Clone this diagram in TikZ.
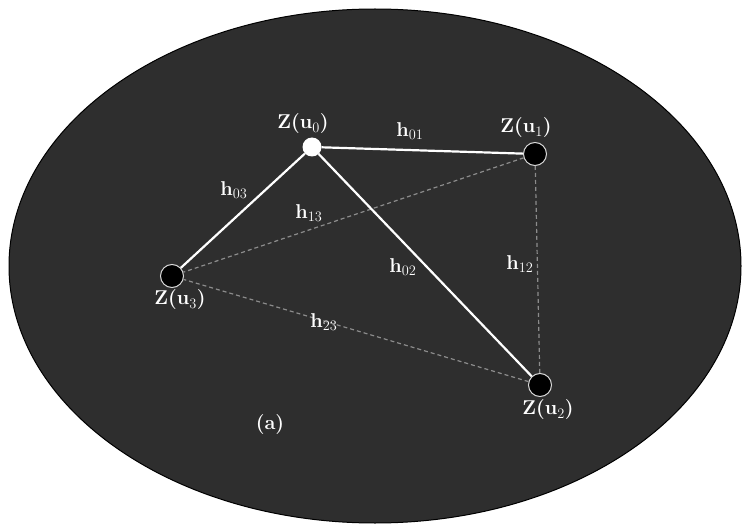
\documentclass[tikz,border=0pt]{standalone}
\usetikzlibrary{positioning}
\begin{document}
\begin{tikzpicture}[x=1pt,y=-1pt,
  lbl/.style={text=white,font=\fontsize{20}{22}\selectfont\bfseries,inner sep=1pt},
  whitept/.style={circle,fill=white,minimum size=19pt,inner sep=0pt},
  blackpt/.style={circle,fill=black,draw=white!85!black,line width=1pt,minimum size=23pt,inner sep=0pt},
  solidedge/.style={draw=white,line width=2.2pt},
  dashedge/.style={draw=white!55!black,line width=1.2pt,dashed,dash pattern=on 4pt off 3pt}]
\useasboundingbox (0,0) rectangle (745,532);
\fill[white] (0,0) rectangle (745,532);
\fill[black!82,draw=black,line width=1pt] (375,266) ellipse [x radius=366, y radius=257];
% points
\node[whitept] (u0) at (312,147) {};
\node[blackpt] (u1) at (535,154) {};
\node[blackpt] (u3) at (172,276) {};
\node[blackpt] (u2) at (540,385) {};
% connectors
\draw[dashedge] (u1) -- (u2);
\draw[dashedge] (u1) -- (u3);
\draw[dashedge] (u2) -- (u3);
\draw[solidedge] (u0) -- (u1);
\draw[solidedge] (u0) -- (u3);
\draw[solidedge] (u0) -- (u2);
% point labels
\node[lbl] (l0) at (303,124) {Z(u$_0$)};
\node[lbl] (l1) at (526,128) {Z(u$_1$)};
\node[lbl] (l3) at (180,300) {Z(u$_3$)};
\node[lbl] (l2) at (548,410) {Z(u$_2$)};
% edge labels
\node[lbl] (h01) at (410,131) {h$_{01}$};
\node[lbl] (h03) at (234,190) {h$_{03}$};
\node[lbl] (h13) at (309,213) {h$_{13}$};
\node[lbl] (h02) at (403,267) {h$_{02}$};
\node[lbl] (h12) at (520,264) {h$_{12}$};
\node[lbl] (h23) at (324,322) {h$_{23}$};
\node[lbl] (cap) at (270,425) {(a)};
\end{tikzpicture}
\end{document}
